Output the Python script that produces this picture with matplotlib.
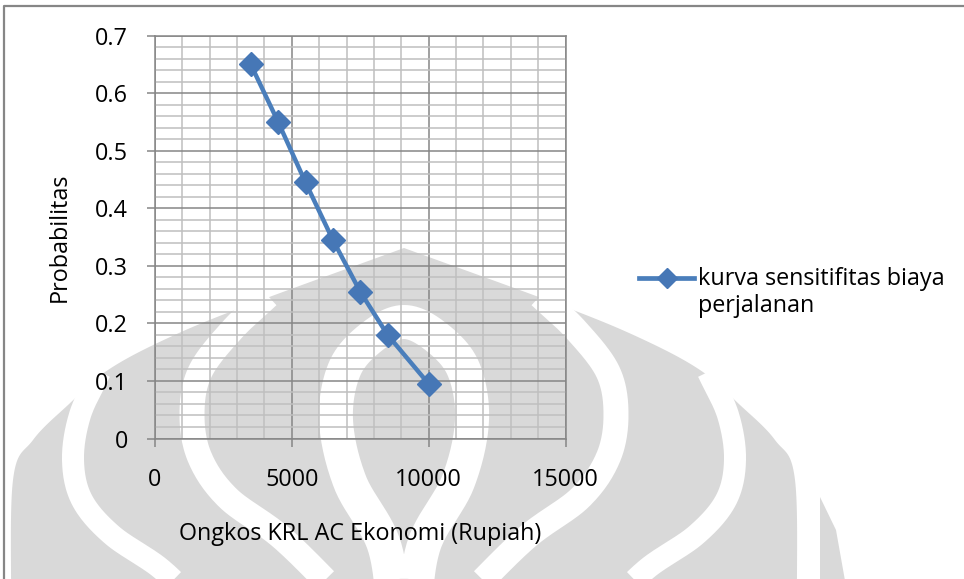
import numpy as np
import matplotlib
matplotlib.use("Agg")
import matplotlib.pyplot as plt
from matplotlib.lines import Line2D
from matplotlib.ticker import MultipleLocator, FixedLocator

# --- data -------------------------------------------------------------
ongkos = [3500, 4500, 5500, 6500, 7500, 8500, 10000]
probabilitas = [0.65, 0.55, 0.445, 0.345, 0.255, 0.18, 0.095]
x_ticks = [0, 5000, 10000, 15000]
y_ticks = [0, 0.1, 0.2, 0.3, 0.4, 0.5, 0.6, 0.7]
y_tick_labels = ["0", "0.1", "0.2", "0.3", "0.4", "0.5", "0.6", "0.7"]
series_label = "kurva sensitifitas biaya\nperjalanan"
x_title = "Ongkos KRL AC Ekonomi (Rupiah)"
y_title = "Probabilitas"

# --- style --------------------------------------------------------------
W, H = 964, 579
plt.rcParams['font.family'] = ['Open Sans', 'DejaVu Sans']
FS = 16.8
LINE_C = '#4a7ebb'
MARK_C = '#4677b6'
MAJOR_C = '#868686'
MINOR_C = '#bfbfbf'
EMBLEM_C = '#d9d9d9'

fig = plt.figure(figsize=(W / 100, H / 100), dpi=100)
fig.patch.set_facecolor('white')


def smooth(pts, n=24):
    """Catmull-Rom curve through the given points."""
    p = np.asarray(pts, float)
    p = np.vstack([2 * p[0] - p[1], p, 2 * p[-1] - p[-2]])
    out = []
    t = np.linspace(0, 1, n, endpoint=False)[:, None]
    for i in range(1, len(p) - 2):
        p0, p1, p2, p3 = p[i - 1], p[i], p[i + 1], p[i + 2]
        out.append(0.5 * (2 * p1 + (-p0 + p2) * t
                          + (2 * p0 - 5 * p1 + 4 * p2 - p3) * t ** 2
                          + (-p0 + 3 * p1 - 3 * p2 + p3) * t ** 3))
    out.append(p[-2][None])
    return np.vstack(out)


def mirror(pts, cx=404):
    return [(2 * cx - x, y) for x, y in pts]


# --- faint emblem in the page background (pixel coordinates) -----------
bg = fig.add_axes([0, 0, 1, 1], zorder=-5)
bg.set_xlim(0, W)
bg.set_ylim(H, 0)
bg.axis('off')

left_flank = [(11, 620), (13, 480), (33, 440), (68, 405), (108, 370),
              (168, 338), (248, 305), (404, 248)]
right_flank = mirror(left_flank[::-1])
outline = np.vstack([smooth(left_flank), smooth(right_flank)])
bg.fill(outline[:, 0], outline[:, 1], color=EMBLEM_C, lw=0)
bg.fill([820, 836, 852, 820], [497, 530, 620, 620], color=EMBLEM_C, lw=0)


def band(pts, width_px):
    c = smooth(pts)
    bg.plot(c[:, 0], c[:, 1], color='white', lw=width_px * 0.72,
            solid_capstyle='butt', solid_joinstyle='round')


band([(395, 620), (384, 545), (350, 482), (336, 420), (345, 368),
      (373, 336), (404, 322), (435, 336), (463, 368), (472, 420),
      (458, 482), (424, 545), (413, 620)], 34)
inner_c = [(268, 296), (232, 330), (200, 372), (192, 415), (200, 458),
           (228, 498), (282, 538), (345, 600)]
band(inner_c, 25)
band(mirror(inner_c), 25)
outer_c = [(100, 372), (80, 415), (73, 460), (82, 500), (112, 535),
           (160, 568), (198, 605)]
band(outer_c, 22)
band(mirror(outer_c), 22)

# --- chart frame -----------------------------------------------------
fig.add_artist(Line2D([4 / W, 4 / W, 1.01], [-0.01, 1 - 6 / H, 1 - 6 / H],
                      transform=fig.transFigure, color=MAJOR_C, lw=1.6))

# --- plot area --------------------------------------------------------
ax = fig.add_axes([155 / W, 1 - 438.5 / H, 410.5 / W, 402.8 / H])
ax.set_facecolor('none')
ax.set_xlim(0, 15000)
ax.set_ylim(0, 0.7)
ax.xaxis.set_major_locator(FixedLocator(x_ticks))
ax.xaxis.set_minor_locator(MultipleLocator(1000))
ax.yaxis.set_major_locator(FixedLocator(y_ticks))
ax.yaxis.set_minor_locator(MultipleLocator(0.02))
ax.set_yticklabels(y_tick_labels)
ax.set_xticklabels([str(v) for v in x_ticks])
ax.grid(which='minor', color=MINOR_C, lw=1.1)
ax.grid(which='major', color=MAJOR_C, lw=1.1)
ax.set_axisbelow(True)
for s in ax.spines.values():
    s.set_color(MAJOR_C)
    s.set_linewidth(1.1)
ax.tick_params(which='major', direction='out', length=5.8, width=1.1,
               color=MAJOR_C, labelsize=FS, labelcolor='black')
ax.tick_params(axis='y', pad=13.5)
ax.tick_params(axis='x', pad=15.5)
ax.tick_params(which='minor', length=0)

ax.plot(ongkos, probabilitas, color=LINE_C, lw=3.2, marker='D', ms=12,
        mfc=MARK_C, mec=MARK_C, zorder=5, clip_on=False)

# --- axis titles ------------------------------------------------------
fig.text(360 / W, 1 - 534 / H, x_title, ha='center', va='center', fontsize=FS)
fig.text(60 / W, 1 - 237 / H, y_title, ha='center', va='center',
         rotation=90, fontsize=FS)

# --- legend -----------------------------------------------------------
fig.add_artist(Line2D([639 / W, 667 / W, 694 / W], [1 - 278 / H] * 3,
                      transform=fig.transFigure, color=LINE_C, lw=3.4,
                      marker='D', markevery=[1], ms=10.5, mfc=MARK_C, mec=MARK_C))
fig.text(698 / W, 1 - 312 / H, series_label, ha='left', va='baseline',
         fontsize=FS, linespacing=1.16)

fig.savefig('out.png', dpi=100)
